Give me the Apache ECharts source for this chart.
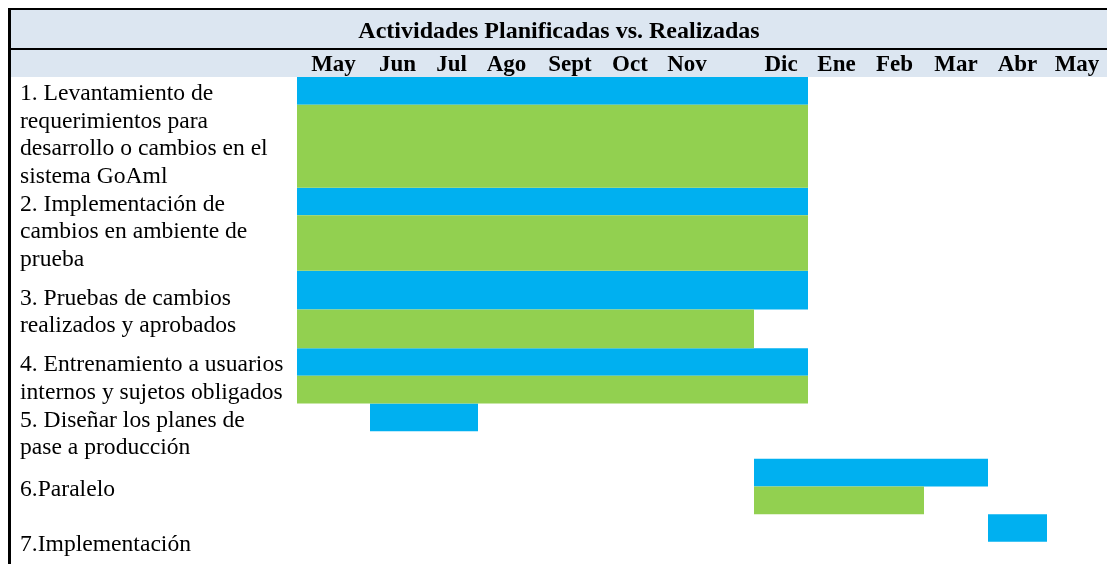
<!DOCTYPE html>
<html>
<head>
<meta charset="utf-8">
<script src="https://cdn.jsdelivr.net/npm/echarts@6/dist/echarts.min.js"></script>
<style>
  html, body { margin: 0; padding: 0; background: #fff; }
  #main { width: 1107px; height: 564px; }
</style>
</head>
<body>
<div id="main"></div>
<script>
// month columns of the table header ('' is the empty column after Nov)
var months = ['May', 'Jun', 'Jul', 'Ago', 'Sept', 'Oct', 'Nov', '', 'Dic', 'Ene', 'Feb', 'Mar', 'Abr', 'May'];

var activities = [
  '1. Levantamiento de\nrequerimientos para\ndesarrollo o cambios en el\nsistema GoAml',
  '2. Implementación de\ncambios en ambiente de\nprueba',
  '3. Pruebas de cambios\nrealizados y aprobados',
  '4. Entrenamiento a usuarios\ninternos y sujetos obligados',
  '5. Diseñar los planes de\npase a producción',
  '6.Paralelo',
  '7.Implementación'
];

// column index where each bar starts / ends (end is exclusive)
var planStart = [0, 0, 0, 0, 1, 8, 12];
var planEnd   = [9, 9, 9, 9, 3, 12, 13];
var doneStart = [0, 0, 0, 0, null, 8, null];
var doneEnd   = [9, 9, 8, 9, null, 11, null];

// table layout: column widths and text lines taken by each band
var colWidths = [73, 55, 53, 57, 70, 50, 64, 35, 54, 57, 59, 64, 59, 60];
var planLines = [1, 1, 1.4, 1, 1, 1, 1];
var doneLines = [3, 2, 1.4, 1, 1, 1, 1];

var edges = [0];
colWidths.forEach(function (w, i) { edges.push(edges[i] + w); });
var centers = [];
var centerNames = [];
months.forEach(function (m, i) {
  if (m) {
    centers.push(edges[i] + colWidths[i] / 2);
    centerNames.push(m);
  }
});

var rowTop = [0];
activities.forEach(function (a, i) { rowTop.push(rowTop[i] + planLines[i] + doneLines[i]); });

var planData = activities.map(function (a, i) {
  return [edges[planStart[i]], edges[planEnd[i]], rowTop[i], rowTop[i] + planLines[i]];
});
var doneData = [];
activities.forEach(function (a, i) {
  if (doneStart[i] == null) return;
  var t = rowTop[i] + planLines[i];
  doneData.push([edges[doneStart[i]], edges[doneEnd[i]], t, t + doneLines[i]]);
});
var labelData = activities.map(function (a, i) {
  return [0, (rowTop[i] + rowTop[i + 1]) / 2, i];
});

var LINE = 27.67;

function renderBar(params, api) {
  var p0 = api.coord([api.value(0), api.value(2)]);
  var p1 = api.coord([api.value(1), api.value(3)]);
  return {
    type: 'rect',
    shape: { x: p0[0], y: p0[1], width: p1[0] - p0[0], height: p1[1] - p0[1] },
    style: { fill: api.visual('color') }
  };
}

var myChart = echarts.init(document.getElementById('main'), null, { renderer: 'canvas' });

var option = {
  animation: false,
  backgroundColor: '#fff',
  title: {
    text: 'Actividades Planificadas vs. Realizadas',
    left: 559,
    top: 20,
    padding: 0,
    textAlign: 'center',
    textStyle: {
      fontFamily: 'Liberation Serif',
      fontWeight: 'bold',
      fontSize: 24,
      color: '#000'
    }
  },
  graphic: [
    { type: 'rect', shape: { x: 10, y: 10, width: 1097, height: 38 }, style: { fill: '#DCE6F1' }, z: -10 },
    { type: 'rect', shape: { x: 10, y: 50, width: 1097, height: 27 }, style: { fill: '#DCE6F1' }, z: -10 },
    { type: 'rect', shape: { x: 8, y: 8, width: 1099, height: 2 }, style: { fill: '#000' } },
    { type: 'rect', shape: { x: 10, y: 48, width: 1097, height: 2 }, style: { fill: '#000' } },
    { type: 'rect', shape: { x: 8, y: 8, width: 3, height: 556 }, style: { fill: '#000' } }
  ],
  grid: { left: 297, right: 0, top: 77, bottom: 0, outerBoundsMode: 'none' },
  xAxis: {
    type: 'value',
    position: 'top',
    min: 0,
    max: edges[edges.length - 1],
    axisLine: { show: false },
    axisTick: { show: false },
    splitLine: { show: false },
    axisLabel: {
      customValues: centers,
      margin: 0,
      fontFamily: 'Liberation Serif',
      fontWeight: 'bold',
      fontSize: 23,
      color: '#000',
      formatter: function (v) {
        for (var k = 0; k < centers.length; k++) {
          if (Math.abs(centers[k] - v) < 0.01) return centerNames[k];
        }
        return '';
      }
    }
  },
  yAxis: {
    type: 'value',
    inverse: true,
    min: 0,
    max: 17.6,
    show: false
  },
  series: [
    {
      name: 'Planificadas',
      type: 'custom',
      renderItem: renderBar,
      itemStyle: { color: '#00B0F0' },
      encode: { x: [0, 1], y: [2, 3] },
      data: planData
    },
    {
      name: 'Realizadas',
      type: 'custom',
      renderItem: renderBar,
      itemStyle: { color: '#92D050' },
      encode: { x: [0, 1], y: [2, 3] },
      data: doneData
    },
    {
      name: 'Actividades',
      type: 'custom',
      silent: true,
      encode: { x: 0, y: 1 },
      data: labelData,
      renderItem: function (params, api) {
        var y = api.coord([0, api.value(1)])[1];
        return {
          type: 'text',
          x: 20,
          y: y + 3,
          style: {
            text: activities[api.value(2)],
            fontFamily: 'Liberation Serif',
            fontSize: 23.6,
            lineHeight: LINE,
            fill: '#000',
            align: 'left',
            verticalAlign: 'middle'
          }
        };
      }
    }
  ]
};

myChart.setOption(option);
</script>
</body>
</html>
